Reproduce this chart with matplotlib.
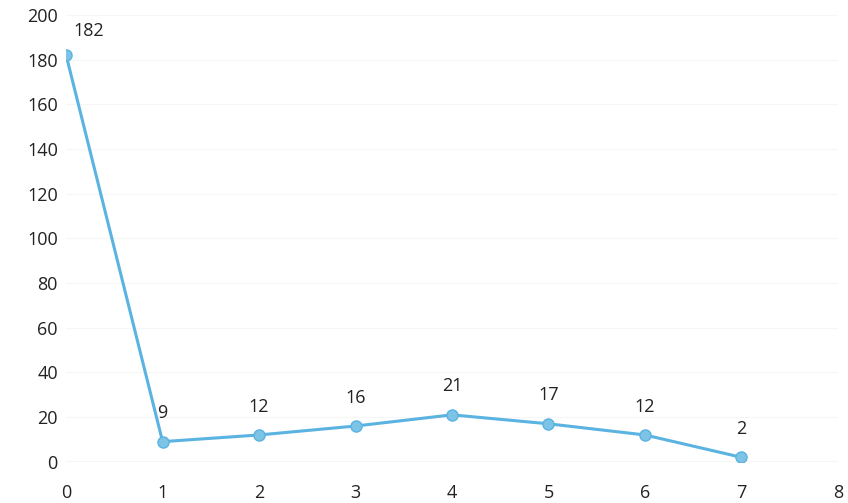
import numpy as np
import matplotlib.pyplot as plt

# data
x_vals = [0, 1, 2, 3, 4, 5, 6, 7]
y_vals = [182, 9, 12, 16, 21, 17, 12, 2]
point_labels = ["182", "9", "12", "16", "21", "17", "12", "2"]

plt.rcParams['font.family'] = ['Open Sans', 'DejaVu Sans']

fig = plt.figure(figsize=(8.48, 5.03), dpi=100)
ax = fig.add_axes([0.078, 0.082, 0.910, 0.888])

line_color = '#5ab3e0'
ax.plot(x_vals, y_vals, color=line_color, linewidth=2.2,
        marker='o', markersize=8, markerfacecolor='#7cc3e6',
        markeredgecolor=line_color, zorder=3)

# data labels above each point
for xv, yv, lab in zip(x_vals, y_vals, point_labels):
    dx = 16 if xv == 0 else 0
    dy = 11 if xv == 0 else 14
    ax.annotate(lab, (xv, yv), xytext=(dx, dy), textcoords='offset points',
                ha='center', va='bottom', fontsize=13, color='#222222')

ax.set_xlim(0, 8)
ax.set_ylim(0, 200)
ax.set_xticks(np.arange(0, 9, 1))
ax.set_yticks(np.arange(0, 201, 20))
ax.tick_params(length=0, labelsize=13, colors='#222222')
ax.tick_params(axis='x', pad=16)
ax.tick_params(axis='y', pad=6)

for s in ax.spines.values():
    s.set_visible(False)
ax.axhline(0, color='#d9d9d9', linewidth=1, zorder=1)
ax.grid(axis='y', color='#f6f6f6', linewidth=0.8)
ax.set_axisbelow(True)

fig.savefig('out.png', dpi=100)
